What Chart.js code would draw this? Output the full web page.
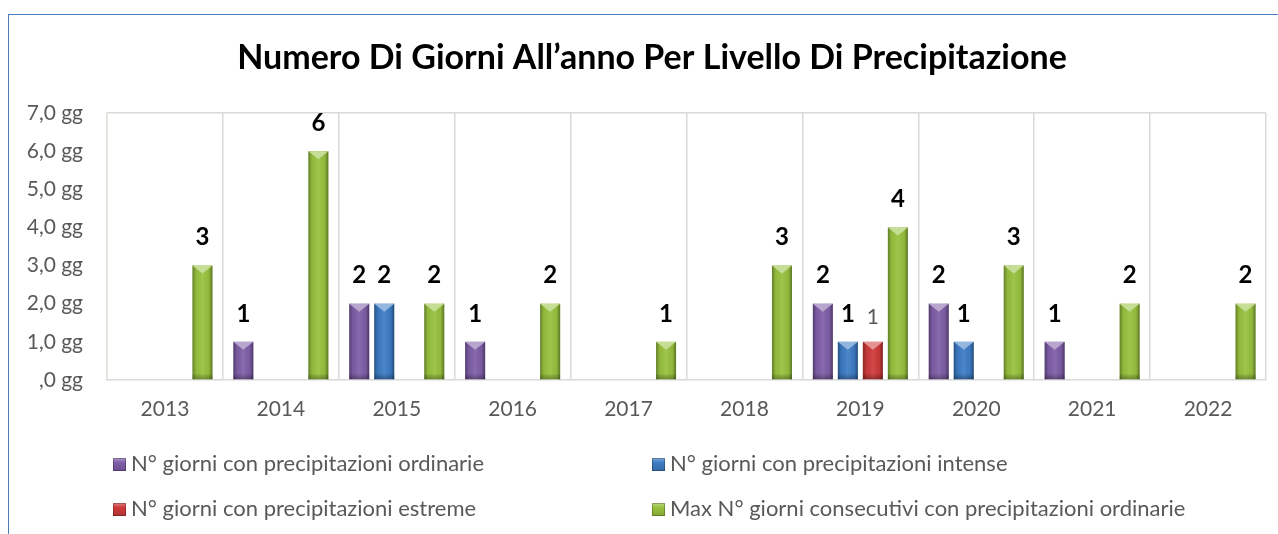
<!DOCTYPE html>
<html>
<head>
<meta charset="utf-8">
<script src="https://cdn.jsdelivr.net/npm/chart.js@4.4.1/dist/chart.umd.min.js"></script>
<style>
  html, body { margin: 0; padding: 0; background: #fff; }
  #wrap { position: relative; width: 1278px; height: 534px; overflow: hidden; background: #fff; }
  #c { position: absolute; left: 0; top: 0; }
  #frameTop { position: absolute; left: 8px; top: 14px; width: 1270px; height: 0; border-top: 1.5px solid #4a7ebf; }
  #frameLeft { position: absolute; left: 8px; top: 14px; width: 0; height: 520px; border-left: 1.5px solid #4a7ebf; }
  .leg { position: absolute; font-family: Lato, "Open Sans", sans-serif; font-size: 22px; color: #595959; white-space: nowrap; line-height: 24px; }
  .mk { display: inline-block; width: 13px; height: 13px; vertical-align: 0px; margin-right: 5px; box-shadow: inset 0 0 0 1px rgba(0,0,0,0.25); }
</style>
</head>
<body>
<div id="wrap">
  <canvas id="c" width="1278" height="534"></canvas>
  <div id="frameTop"></div>
  <div id="frameLeft"></div>
  <div id="legend"></div>
</div>
<script>
// ---- DATA ----
const chartTitle = 'Numero Di Giorni All’anno Per Livello Di Precipitazione';
const categories = ['2013','2014','2015','2016','2017','2018','2019','2020','2021','2022'];
const seriesNames = [
  'N° giorni con precipitazioni ordinarie',
  'N° giorni con precipitazioni intense',
  'N° giorni con precipitazioni estreme',
  'Max N° giorni consecutivi con precipitazioni ordinarie'
];
const ordinarie   = [0, 1, 2, 1, 0, 0, 2, 2, 1, 0];
const intense     = [0, 0, 2, 0, 0, 0, 1, 1, 0, 0];
const estreme     = [0, 0, 0, 0, 0, 0, 1, 0, 0, 0];
const consecutivi = [3, 6, 2, 2, 1, 3, 4, 3, 2, 2];
const yTickLabels = [',0 gg', '1,0 gg', '2,0 gg', '3,0 gg', '4,0 gg', '5,0 gg', '6,0 gg', '7,0 gg'];
const seriesColors = ['#7f5ea8', '#3d7cc6', '#cf3a3a', '#98c23e'];

// ---- legend (HTML) ----
const legendPos = [[113, 451], [652, 451], [113, 496], [652, 496]];
const legendEl = document.getElementById('legend');
seriesNames.forEach((n, i) => {
  const d = document.createElement('div');
  d.className = 'leg';
  d.style.left = legendPos[i][0] + 'px';
  d.style.top = legendPos[i][1] + 'px';
  const m = document.createElement('span');
  m.className = 'mk';
  m.style.background = 'linear-gradient(to bottom, rgba(255,255,255,0.35) 0%, rgba(255,255,255,0) 35%, rgba(0,0,0,0.15) 100%), ' + seriesColors[i];
  d.appendChild(m);
  d.appendChild(document.createTextNode(n));
  legendEl.appendChild(d);
});

// ---- helpers / plugins ----
function shade(hex, amt) {
  const n = parseInt(hex.slice(1), 16);
  let r = (n >> 16) & 255, g = (n >> 8) & 255, b = n & 255;
  const f = v => Math.max(0, Math.min(255, Math.round(amt >= 0 ? v + (255 - v) * amt : v * (1 + amt))));
  return 'rgb(' + f(r) + ',' + f(g) + ',' + f(b) + ')';
}
const titlePlugin = {
  id: 'customTitle',
  afterDraw(chart) {
    const ctx = chart.ctx;
    ctx.save();
    ctx.font = 'bold 34px Lato, "Open Sans", sans-serif';
    ctx.fillStyle = '#000';
    ctx.textAlign = 'center';
    ctx.textBaseline = 'middle';
    ctx.fillText(chartTitle, 652, 58);
    ctx.restore();
  }
};
const bevelPlugin = {
  id: 'bevel',
  afterDatasetsDraw(chart) {
    const ctx = chart.ctx;
    chart.data.datasets.forEach((ds, di) => {
      const meta = chart.getDatasetMeta(di);
      meta.data.forEach((bar, i) => {
        if (!ds.data[i]) return;
        const w = bar.width, l = bar.x - w / 2, r = bar.x + w / 2, t = bar.y, b = bar.base;
        ctx.save();
        const g = ctx.createLinearGradient(l, 0, r, 0);
        g.addColorStop(0, 'rgba(0,0,0,0.35)');
        g.addColorStop(0.18, 'rgba(0,0,0,0.05)');
        g.addColorStop(0.5, 'rgba(255,255,255,0.08)');
        g.addColorStop(0.82, 'rgba(0,0,0,0.05)');
        g.addColorStop(1, 'rgba(0,0,0,0.4)');
        ctx.fillStyle = g;
        ctx.fillRect(l, t, w, b - t);
        ctx.beginPath();
        ctx.moveTo(l, t);
        ctx.lineTo(r, t);
        ctx.lineTo(bar.x, t + 8);
        ctx.closePath();
        ctx.fillStyle = shade(seriesColors[di], 0.45);
        ctx.fill();
        const gb = ctx.createLinearGradient(0, b - 6, 0, b);
        gb.addColorStop(0, 'rgba(0,0,0,0)');
        gb.addColorStop(1, 'rgba(0,0,0,0.3)');
        ctx.fillStyle = gb;
        ctx.fillRect(l, b - 6, w, 6);
        ctx.restore();
      });
    });
  }
};
const labelPlugin = {
  id: 'vlabels',
  afterDatasetsDraw(chart) {
    const ctx = chart.ctx;
    chart.data.datasets.forEach((ds, di) => {
      const meta = chart.getDatasetMeta(di);
      meta.data.forEach((bar, i) => {
        const v = ds.data[i];
        if (!v) return;
        ctx.save();
        ctx.textAlign = 'center';
        ctx.textBaseline = 'middle';
        if (di === 2) {
          ctx.font = '21px Lato, "Open Sans", sans-serif';
          ctx.fillStyle = '#595959';
          ctx.fillText(String(v), bar.x, bar.y - 25);
        } else {
          ctx.font = 'bold 24px Lato, "Open Sans", sans-serif';
          ctx.fillStyle = '#000';
          ctx.fillText(String(v), bar.x, bar.y - 28);
        }
        ctx.restore();
      });
    });
  }
};

const seriesData = [ordinarie, intense, estreme, consecutivi];
new Chart(document.getElementById('c'), {
  type: 'bar',
  data: {
    labels: categories,
    datasets: seriesNames.map((n, i) => ({
      label: n,
      data: seriesData[i],
      backgroundColor: seriesColors[i],
      borderWidth: 0,
      categoryPercentage: 0.863,
      barPercentage: 0.8
    }))
  },
  options: {
    responsive: false,
    animation: false,
    devicePixelRatio: 1,
    layout: { padding: { left: 0, right: 12, top: 113, bottom: 0 } },
    plugins: {
      legend: { display: false },
      tooltip: { enabled: false },
      title: { display: false }
    },
    scales: {
      x: {
        grid: { display: true, offset: true, color: '#d9d9d9', drawTicks: false, lineWidth: 1.5 },
        border: { display: true, color: '#d9d9d9', width: 1.5 },
        ticks: { color: '#595959', font: { family: 'Lato, "Open Sans", sans-serif', size: 21 }, padding: 17, maxRotation: 0 },
        afterFit(s) { s.height = 154; }
      },
      y: {
        min: 0, max: 7,
        grid: {
          drawTicks: false,
          color: ctx => (ctx.tick && ctx.tick.value === 7 ? '#d9d9d9' : 'rgba(0,0,0,0)'),
          lineWidth: 1.5
        },
        border: { display: true, color: '#e3e3da', width: 1.5 },
        ticks: {
          stepSize: 1,
          color: '#595959',
          font: { family: 'Lato, "Open Sans", sans-serif', size: 21 },
          padding: 24,
          callback: (v) => yTickLabels[v]
        },
        afterFit(s) { s.width = 107; }
      }
    }
  },
  plugins: [bevelPlugin, labelPlugin, titlePlugin]
});
</script>
</body>
</html>
